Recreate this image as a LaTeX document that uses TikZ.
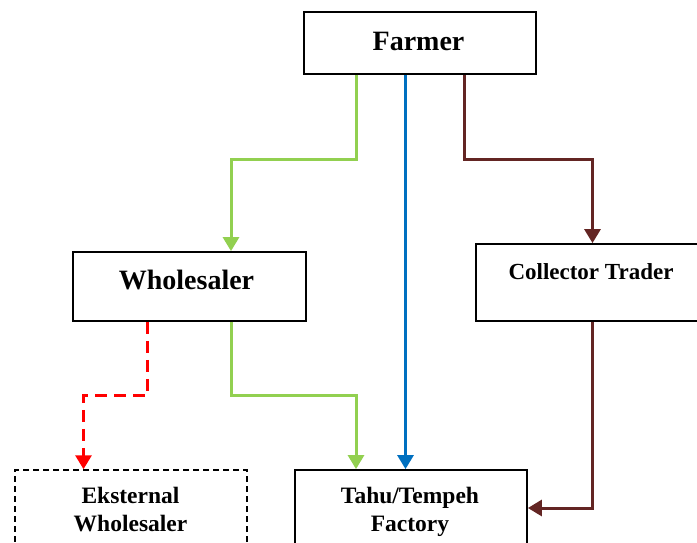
\documentclass[tikz,border=0pt]{standalone}
\usepackage{fontspec}
\setmainfont{Liberation Serif}
\usetikzlibrary{arrows.meta}
\definecolor{cgreen}{HTML}{92D050}
\definecolor{cblue}{HTML}{0070C0}
\definecolor{cbrown}{HTML}{632523}
\definecolor{cred}{HTML}{FF0000}
\tikzset{
  box/.style={draw=black, line width=1.8pt, rectangle, inner sep=0pt},
  dbox/.style={box, line width=1.5pt, dash pattern=on 6pt off 4pt},
  bigtxt/.style={inner sep=0pt, anchor=base, font=\bfseries\fontsize{28}{32}\selectfont},
  midtxt/.style={inner sep=0pt, anchor=base, font=\bfseries\fontsize{23}{28}\selectfont},
  lowtxt/.style={inner sep=0pt, anchor=base, font=\bfseries\fontsize{23.5}{28}\selectfont},
  conn/.style={line width=3pt, -{Triangle[width=16pt,length=14pt]}},
}
\begin{document}
\begin{tikzpicture}[x=1pt,y=-1pt]
\useasboundingbox (0,0) rectangle (697,542);
\clip (0,0) rectangle (697,542);
\fill[white] (0,0) rectangle (697,542);
% boxes
\node[box, minimum width=232pt, minimum height=62pt] (F) at (420,43) {};
\node[box, minimum width=233pt, minimum height=69pt] (W) at (189.5,286.5) {};
\node[box, minimum width=226pt, minimum height=77pt] (C) at (589,282.5) {};
\node[dbox, minimum width=232pt, minimum height=90pt] (E) at (131,515) {};
\node[box, minimum width=232pt, minimum height=90pt] (T) at (411,515) {};
% texts
\node[bigtxt] (Ft) at (418.5,50) {Farmer};
\node[bigtxt] (Wt) at (186.5,289) {Wholesaler};
\node[midtxt] (Ct) at (591,279) {Collector Trader};
\node[lowtxt] (Et) at (130.5,503) {\fontsize{23.5}{28}\selectfont\begin{tabular}[t]{@{}c@{}}Eksternal\\Wholesaler\end{tabular}};
\node[lowtxt] (Tt) at (410,503) {\fontsize{23.5}{28}\selectfont\begin{tabular}[t]{@{}c@{}}Tahu/Tempeh\\Factory\end{tabular}};
% turn points
\coordinate (g1) at (356,159);
\coordinate (g2) at (231,159);
\coordinate (b1) at (405.5,0);
\coordinate (r1) at (464.5,159);
\coordinate (r2) at (592.5,159);
\coordinate (g3) at (231,395);
\coordinate (g4) at (356,395);
\coordinate (d1) at (147.5,395);
\coordinate (d2) at (83.5,395);
\coordinate (r3) at (592.5,508);
% connectors
\draw[conn, cgreen] (F.south -| g1) -- (g1) -- (g2) -- (W.north -| g2);
\draw[conn, cblue] (F.south -| b1) -- (T.north -| b1);
\draw[conn, cbrown] (F.south -| r1) -- (r1) -- (r2) -- (C.north -| r2);
\draw[conn, cgreen] (W.south -| g3) -- (g3) -- (g4) -- (T.north -| g4);
\draw[conn, cred, dash pattern=on 12pt off 7pt] (W.south -| d1) -- (d1) -- (d2) -- (E.north -| d2);
\draw[conn, cbrown] (C.south -| r3) -- (r3) -- (T.east |- r3);
\end{tikzpicture}
\end{document}
